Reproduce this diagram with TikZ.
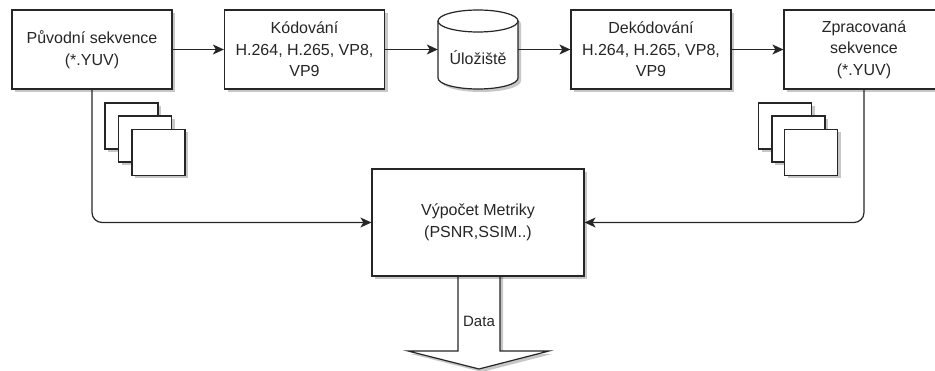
\documentclass[tikz,border=0pt]{standalone}
\usepackage{fontspec}
\setmainfont{Liberation Sans}
\usetikzlibrary{shadows,arrows.meta}
\tikzset{
  shd/.style={drop shadow={shadow xshift=3pt,shadow yshift=-3pt,fill=black,opacity=0.22}},
  box/.style={draw=black!85,line width=1.2pt,fill=white,shd,minimum width=160pt,minimum height=79pt,
    inner sep=0pt,align=center,font=\fontsize{16}{21.5}\selectfont,text=black!85},
  frame/.style={draw=black!85,line width=1.2pt,fill=white,shd,minimum width=53pt,minimum height=46pt,inner sep=0pt},
  conn/.style={draw=black!85,line width=1.2pt,-{Stealth[length=11pt,width=10pt,inset=3pt]},rounded corners=10pt},
  lbl/.style={font=\fontsize{16}{21.5}\selectfont,text=black!85,inner sep=0pt,align=center},
}
\begin{document}
\begin{tikzpicture}[x=1pt,y=-1pt]
\useasboundingbox (0,0) rectangle (935,371);
\clip (0,0) rectangle (935,371);
% top row
\node[box] (src) at (92,49.5) {Původní sekvence\\(*.YUV)};
\node[box] (enc) at (304.5,49.5) {Kódování\\H.264, H.265, VP8,\\VP9};
\node[box] (dec) at (651,49.5) {Dekódování\\H.264, H.265, VP8,\\VP9};
\node[box] (out) at (864,49.5) {Zpracovaná\\sekvence\\(*.YUV)};
% cylinder
\node[minimum width=80pt,minimum height=79pt,inner sep=0pt] (cyl) at (478,49.5) {};
\path[draw=black!85,line width=1.2pt,fill=white,shd]
  (438,21) -- (438,78) arc[start angle=180,end angle=360,x radius=40pt,y radius=11pt]
  -- (518,21) arc[start angle=0,end angle=180,x radius=40pt,y radius=11pt] -- cycle;
\draw[black!85,line width=1.2pt] (438,21) arc[start angle=180,end angle=360,x radius=40pt,y radius=11pt];
\node[lbl] (cyltxt) at (478,58) {Úložiště};
% frame stacks
\node[frame] (fa1) at (131.5,126) {};
\node[frame] (fa2) at (145,139) {};
\node[frame] (fa3) at (158.5,152.5) {};
\node[frame] (fb1) at (785,126) {};
\node[frame] (fb2) at (798.5,139) {};
\node[frame] (fb3) at (811,152.5) {};
% data arrow (drawn before the box so the box covers its top)
\path[draw=black!85,line width=1.2pt,fill=white,shd]
  (458,270) -- (458,351) -- (408,351) -- (479,369) -- (549,351) -- (500,351) -- (500,270);
% metric box
\node[box,minimum width=212pt,minimum height=107pt] (calc) at (478,222.5) {Výpočet Metriky\\(PSNR,SSIM..)};
\node[lbl,font=\fontsize{15}{18}\selectfont] (data) at (479,321) {Data};
% connectors
\draw[conn] (src.east) -- (enc.west);
\draw[conn] (enc.east) -- (cyl.west);
\draw[conn] (cyl.east) -- (dec.west);
\draw[conn] (dec.east) -- (out.west);
\draw[conn] (src.south) |- (calc.west);
\draw[conn] (out.south) |- (calc.east);
\end{tikzpicture}
\end{document}
